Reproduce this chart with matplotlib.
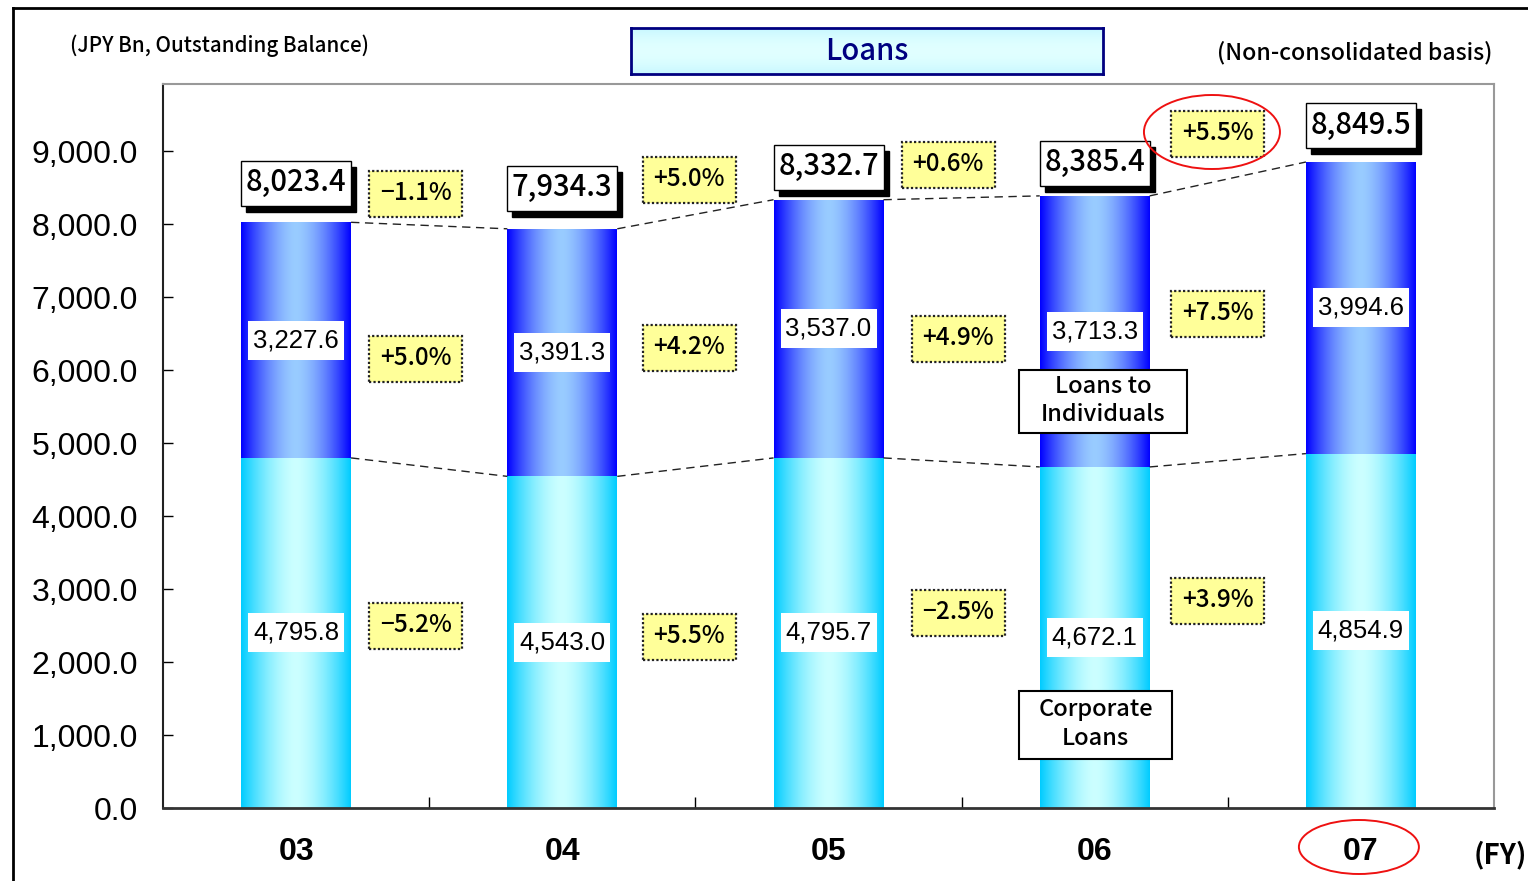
import matplotlib
matplotlib.use("Agg")
import matplotlib.pyplot as plt
import numpy as np
from matplotlib import transforms
from matplotlib.patches import Rectangle, Ellipse
from matplotlib.lines import Line2D
from matplotlib.ticker import FuncFormatter

# ---- data -------------------------------------------------------------
years = ["03", "04", "05", "06", "07"]
corporate = [4795.8, 4543.0, 4795.7, 4672.1, 4854.9]
individuals = [3227.6, 3391.3, 3537.0, 3713.3, 3994.6]
totals = [8023.4, 7934.3, 8332.7, 8385.4, 8849.5]
growth_total = ["\u22121.1%", "+5.0%", "+0.6%", "+5.5%"]
growth_individuals = ["+5.0%", "+4.2%", "+4.9%", "+7.5%"]
growth_corporate = ["\u22125.2%", "+5.5%", "\u22122.5%", "+3.9%"]
y_ticks = [0, 1000, 2000, 3000, 4000, 5000, 6000, 7000, 8000, 9000]

# ---- layout -----------------------------------------------------------
growth_total_pos = [(0.450, 8411), (1.476, 8603), (2.449, 8808), (3.463, 9233)]
growth_indiv_pos = [(0.450, 6151), (1.476, 6301), (2.487, 6425), (3.463, 6767)]
growth_corp_pos = [(0.450, 2493), (1.476, 2342), (2.487, 2671), (3.463, 2836)]
total_label_lift = [39, 40, 32, 32, 36]   # px above bar top

GOTHIC = ["Noto Sans CJK JP", "DejaVu Sans"]
MED = "medium"
plt.rcParams["font.family"] = ["Liberation Sans", "DejaVu Sans"]

W, H, DPI = 1528, 881, 100
fig = plt.figure(figsize=(W / DPI, H / DPI), dpi=DPI)
ax = fig.add_axes([163 / W, 73 / H, 1331 / W, 724 / H])

BAR_W = 0.413
x = np.arange(len(years))
ax.set_xlim(-0.5, len(years) - 0.5)
ax.set_ylim(0, 9918)


def gradient(edge, center, power=1.6, n=256):
    t = np.abs(np.linspace(-1, 1, n)) ** power
    edge = np.array(edge)
    center = np.array(center)
    img = center[None, :] * (1 - t[:, None]) + edge[None, :] * t[:, None]
    return img[None, :, :]


grad_corp = gradient((0.0, 0.80, 1.0), (0.80, 1.0, 1.0))
grad_indiv = gradient((0.0, 0.0, 1.0), (0.60, 0.80, 1.0))

bars_corp = ax.bar(x, corporate, width=BAR_W, color="none", edgecolor="none", zorder=2)
bars_indiv = ax.bar(x, individuals, bottom=corporate, width=BAR_W,
                    color="none", edgecolor="none", zorder=2)
for bars, img in ((bars_corp, grad_corp), (bars_indiv, grad_indiv)):
    for b in bars:
        x0, y0 = b.get_x(), b.get_y()
        im = ax.imshow(img, extent=[x0, x0 + b.get_width(), y0, y0 + b.get_height()],
                       aspect="auto", interpolation="bilinear", zorder=2)
        im.set_clip_path(b)

# dashed connectors between neighbouring bars
for i in range(len(years) - 1):
    for series in (totals, corporate):
        ax.plot([i + BAR_W / 2, i + 1 - BAR_W / 2], [series[i], series[i + 1]],
                color="#222222", lw=1.0, ls=(0, (6, 4)), zorder=3)


def px_trans(xd, yd, dx=0, dy=0):
    return fig.dpi_scale_trans + transforms.ScaledTranslation(xd, yd, ax.transData) + \
        transforms.Affine2D().translate(dx, dy)


def px_rect(xd, yd, w, h, dx=0, dy=0, **kw):
    r = Rectangle((-w / 2 / DPI, -h / 2 / DPI), w / DPI, h / DPI,
                  transform=px_trans(xd, yd, dx, dy), clip_on=False, **kw)
    ax.add_patch(r)
    return r


def px_text(xd, yd, s, dx=0, dy=0, **kw):
    return ax.text(0, 0, s, transform=px_trans(xd, yd, dx, dy), ha="center", va="center",
                   clip_on=False, **kw)


# totals above bars, white box with drop shadow
for i, t in enumerate(totals):
    lift = total_label_lift[i]
    px_rect(i, t, 110, 45, dx=5, dy=lift - 6, facecolor="black", edgecolor="black", zorder=5)
    px_rect(i, t, 110, 45, dy=lift, facecolor="white", edgecolor="black", lw=1.0, zorder=6)
    px_text(i, t, f"{t:,.1f}", dy=lift + 1, fontsize=21, family=GOTHIC, fontweight=MED,
            zorder=7)

# segment values in white boxes
for i in range(len(years)):
    for mid, val in ((corporate[i] / 2, corporate[i]),
                     (corporate[i] + individuals[i] / 2, individuals[i])):
        px_rect(i, mid, 96, 39, facecolor="white", edgecolor="none", zorder=4)
        px_text(i, mid, f"{val:,.1f}", fontsize=18.5, zorder=5)

# growth rates in yellow dotted boxes
for labels, positions in ((growth_total, growth_total_pos),
                          (growth_individuals, growth_indiv_pos),
                          (growth_corporate, growth_corp_pos)):
    for lab, (gx, gy) in zip(labels, positions):
        px_rect(gx, gy, 93, 46, facecolor="#FFFF99", edgecolor="#222222", lw=1.6,
                ls=(0, (1, 1)), zorder=4)
        px_text(gx, gy, lab, dy=1, fontsize=17.5, family=GOTHIC, fontweight=MED, zorder=5)

# series captions
px_rect(3.031, 5568, 168, 63, facecolor="white", edgecolor="black", lw=1.5, zorder=6)
px_text(3.031, 5568, "Loans to\nIndividuals", dy=1, fontsize=17, family=GOTHIC,
        fontweight=MED, linespacing=1.3, zorder=7)
px_rect(3.003, 1137, 153, 68, facecolor="white", edgecolor="black", lw=1.5, zorder=6)
px_text(3.003, 1137, "Corporate\nLoans", dy=1, fontsize=17, family=GOTHIC,
        fontweight=MED, linespacing=1.3, zorder=7)

# highlight ellipses
e1 = Ellipse((0, 0), 136 / DPI, 74 / DPI, transform=px_trans(3.463, 9233, -6, 2),
             facecolor="none", edgecolor="#EE1111", lw=1.4, clip_on=False, zorder=8)
ax.add_patch(e1)
e2 = Ellipse((0, 0), 120 / DPI, 54 / DPI, transform=px_trans(4, 0, -2, -39),
             facecolor="none", edgecolor="#EE1111", lw=1.4, clip_on=False, zorder=8)
ax.add_patch(e2)

# axes styling
ax.set_yticks(y_ticks)
ax.yaxis.set_major_formatter(FuncFormatter(lambda v, p: f"{v:,.1f}"))
ax.tick_params(axis="y", direction="in", length=7, width=1, pad=18, labelsize=23,
               colors="black")
ax.set_xticks([0.5, 1.5, 2.5, 3.5])
ax.set_xticklabels([])
ax.tick_params(axis="x", which="major", direction="in", length=8, width=1)
ax.set_xticks(x, years, minor=True)
ax.tick_params(axis="x", which="minor", length=0, pad=21, labelsize=23)
for lab in ax.get_xticklabels(minor=True):
    lab.set_fontweight("bold")

ax.spines["left"].set_color("#222222")
ax.spines["left"].set_linewidth(1.5)
ax.spines["bottom"].set_color("#333333")
ax.spines["bottom"].set_linewidth(2.0)
for s in ("top", "right"):
    ax.spines[s].set_color("#999999")
    ax.spines[s].set_linewidth(1.5)

# headers
fig.text(70 / W, 1 - 46 / H, "(JPY Bn, Outstanding Balance)", fontsize=14.8,
         family=GOTHIC, fontweight=MED, ha="left", va="center")
fig.text(1492 / W, 1 - 53 / H, "(Non-consolidated basis)", fontsize=16.6,
         family=GOTHIC, fontweight=MED, ha="right", va="center")
fig.text(1527 / W, 1 - 855 / H, "(FY)", fontsize=20, fontweight="bold",
         family=GOTHIC, ha="right", va="center")

tax = fig.add_axes([631 / W, 1 - 74 / H, 472 / W, 46 / H])
tv = np.abs(np.linspace(-1, 1, 64)) ** 2
title_img = (np.array([0.88, 1.0, 1.0])[None, :] * (1 - tv[:, None]) +
             np.array([0.78, 0.97, 1.0])[None, :] * tv[:, None])[:, None, :]
tax.imshow(title_img, extent=[0, 1, 0, 1], aspect="auto", interpolation="bilinear")
tax.set_xticks([])
tax.set_yticks([])
for s in tax.spines.values():
    s.set_color("#000080")
    s.set_linewidth(2)
tax.text(0.5, 0.5, "Loans", transform=tax.transAxes, ha="center", va="center",
         fontsize=21, color="#000080", family=GOTHIC, fontweight=MED)

# outer frame lines
fig.add_artist(Line2D([13 / W, 13 / W], [0, 1 - 7.5 / H], transform=fig.transFigure,
                      color="black", lw=2))
fig.add_artist(Line2D([13 / W, 1], [1 - 7.5 / H, 1 - 7.5 / H], transform=fig.transFigure,
                      color="black", lw=2))

fig.savefig("out.png", dpi=DPI)
